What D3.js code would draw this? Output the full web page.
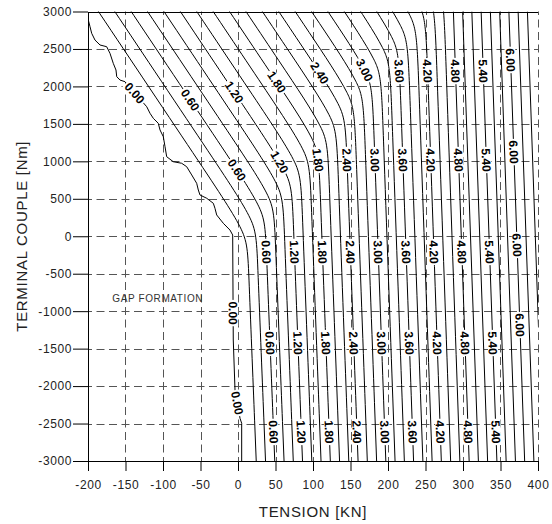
<!DOCTYPE html>
<html>
<head>
<meta charset="utf-8">
<script src="https://cdn.jsdelivr.net/npm/d3@7/dist/d3.min.js"></script>
<style>
body { margin: 0; background: #fff; }
text { font-family: "Liberation Sans", Arial, sans-serif; }
</style>
</head>
<body>
<svg id="chart" width="552" height="524"></svg>
<script>
//data
var xMajor = [-200, -150, -100, -50, 0, 50, 100, 150, 200, 250, 300, 350, 400];
var yMajor = [-3000, -2500, -2000, -1500, -1000, -500, 0, 500, 1000, 1500, 2000, 2500, 3000];
var xGrid = [-150, -100, -50, 0, 50, 100, 150, 200, 250, 300, 350, 400];
var yGrid = [-2500, -2000, -1500, -1000, -500, 0, 500, 1000, 1500, 2000, 2500];

// the 0.00 line (gap formation boundary), [tension, couple]
var gapLine = [[-199.6, 2886], [-197.3, 2797], [-195.1, 2709], [-190.7, 2619], [-184, 2553],
    [-175.1, 2530], [-170.7, 2442], [-166.3, 2308], [-162.7, 2219], [-161.7, 2130], [-157.3, 2085],
    [-150.7, 2063], [-137, 1905], [-121.7, 1729], [-117.3, 1641], [-112.9, 1574], [-106.3, 1508],
    [-104, 1419], [-99.6, 1329], [-97.3, 1195], [-95.1, 1062], [-86.3, 995], [-75.1, 974],
    [-68.4, 928], [-61.7, 818], [-55.1, 707], [-52.9, 617], [-50.7, 551], [-41.7, 507],
    [-32.9, 440], [-30.7, 373], [-28.4, 284], [-19.6, 173], [-10.7, 83], [-7.1, 17],
    [-6.3, -1385], [-4, -2052], [2.7, -2430], [4.9, -2497], [4.9, -3000]];

// other contour levels and their traced control points [tension, couple]
var levels = [0.2, 0.4, 0.6, 0.8, 1.0, 1.2, 1.4, 1.6, 1.8, 2.0, 2.2, 2.4, 2.6, 2.8, 3.0, 3.2,
    3.4, 3.6, 3.8, 4.0, 4.2, 4.4, 4.6, 4.8, 5.0, 5.2, 5.4, 5.6, 5.8, 6.0, 6.2, 6.4];
var levelPoints = [
    [[-226.2, 3600], [-47.8, 930], [12.3, 30], [13.4, -270], [24.3, -3000]],
    [[-204.4, 3600], [-36.0, 1079], [24.1, 179], [25.2, -121], [36.7, -3000]],
    [[-182.5, 3600], [-24.1, 1229], [36.0, 329], [36.9, 29], [49.0, -3000]],
    [[-160.7, 3600], [-12.2, 1378], [47.9, 478], [48.8, 178], [61.4, -3000]],
    [[-138.8, 3600], [-0.3, 1527], [59.8, 627], [60.7, 327], [73.7, -3000]],
    [[-116.9, 3600], [11.6, 1676], [71.7, 776], [72.6, 476], [86.0, -3000]],
    [[-95.1, 3600], [23.5, 1825], [83.6, 925], [84.5, 625], [98.4, -3000]],
    [[-73.2, 3600], [35.4, 1975], [95.5, 1075], [96.4, 775], [110.7, -3000]],
    [[-51.4, 3600], [47.3, 2124], [107.4, 1224], [108.3, 924], [123.1, -3000]],
    [[-29.5, 3600], [59.2, 2273], [119.3, 1373], [120.2, 1073], [135.4, -3000]],
    [[-7.6, 3600], [71.1, 2422], [131.2, 1522], [132.1, 1222], [147.7, -3000]],
    [[14.2, 3600], [83.0, 2572], [143.1, 1672], [144.0, 1372], [160.1, -3000]],
    [[36.1, 3600], [94.9, 2721], [155.0, 1821], [155.9, 1521], [172.4, -3000]],
    [[57.9, 3600], [106.8, 2870], [166.9, 1970], [167.8, 1670], [184.8, -3000]],
    [[79.8, 3600], [118.6, 3019], [178.7, 2119], [179.6, 1819], [197.1, -3000]],
    [[101.7, 3600], [130.5, 3168], [190.6, 2268], [191.5, 1968], [209.4, -3000]],
    [[123.5, 3600], [142.4, 3318], [202.5, 2418], [203.4, 2118], [221.8, -3000]],
    [[145.4, 3600], [154.3, 3467], [214.4, 2567], [215.3, 2267], [234.1, -3000]],
    [[166.2, 3616], [226.3, 2716], [227.2, 2416], [246.5, -3000]],
    [[178.1, 3765], [238.2, 2865], [239.1, 2565], [258.8, -3000]],
    [[190.0, 3915], [250.1, 3015], [251.0, 2715], [271.1, -3000]],
    [[201.9, 4064], [262.0, 3164], [262.9, 2864], [283.5, -3000]],
    [[213.8, 4213], [273.9, 3313], [274.8, 3013], [295.8, -3000]],
    [[287.2, 3000], [308.2, -3000]],
    [[299.5, 3000], [320.5, -3000]],
    [[311.8, 3000], [332.8, -3000]],
    [[324.2, 3000], [345.2, -3000]],
    [[336.5, 3000], [357.5, -3000]],
    [[348.9, 3000], [369.9, -3000]],
    [[361.2, 3000], [382.2, -3000]],
    [[373.5, 3000], [394.5, -3000]],
    [[385.9, 3000], [406.9, -3000]]
];

// where the level labels sit: [level, couple]
var labelSpots = [
    [0, 1912], [0, -1025], [0, -2227],
    [0.6, 1819], [0.6, 884], [0.6, -210], [0.6, -1425], [0.6, -2612],
    [1.2, 1924], [1.2, 991], [1.2, -210], [1.2, -1425], [1.2, -2612],
    [1.8, 2059], [1.8, 1018], [1.8, -210], [1.8, -1425], [1.8, -2612],
    [2.4, 2179], [2.4, 1018], [2.4, -210], [2.4, -1425], [2.4, -2612],
    [3.0, 2219], [3.0, 1018], [3.0, -210], [3.0, -1425], [3.0, -2612],
    [3.6, 2205], [3.6, 1018], [3.6, -210], [3.6, -1425], [3.6, -2612],
    [4.2, 2205], [4.2, 1018], [4.2, -210], [4.2, -1425], [4.2, -2612],
    [4.8, 2205], [4.8, 1018], [4.8, -210], [4.8, -1425], [4.8, -2612],
    [5.4, 2205], [5.4, 1018], [5.4, -210], [5.4, -1425], [5.4, -2612],
    [6.0, 2353], [6.0, 1124], [6.0, -117], [6.0, -1185]
];
//end data

var svg = d3.select('#chart');
var x = d3.scaleLinear().domain([-200, 400]).range([88, 538]);
var y = d3.scaleLinear().domain([-3000, 3000]).range([461, 11.5]);

svg.append('defs').append('clipPath').attr('id', 'plotClip')
    .append('rect')
    .attr('x', x(-200)).attr('y', y(3000))
    .attr('width', x(400) - x(-200)).attr('height', y(-3000) - y(3000));

//dashed grid
var gGrid = svg.append('g').attr('class', 'grid');
gGrid.selectAll('line.gx')
    .data(xGrid)
    .enter().append('line')
    .attr('class', 'gx')
    .attr('x1', function (d) { return Math.round(x(d)) + 0.5; })
    .attr('x2', function (d) { return Math.round(x(d)) + 0.5; })
    .attr('y1', y(-3000))
    .attr('y2', y(3000))
    .attr('stroke', '#555')
    .attr('stroke-dasharray', '8,4.5')
    .attr('stroke-dashoffset', 4);
gGrid.selectAll('line.gy')
    .data(yGrid)
    .enter().append('line')
    .attr('class', 'gy')
    .attr('x1', x(-200))
    .attr('x2', x(400))
    .attr('y1', function (d) { return Math.round(y(d)) + 0.5; })
    .attr('y2', function (d) { return Math.round(y(d)) + 0.5; })
    .attr('stroke', '#555')
    .attr('stroke-dasharray', '8,4.5')
    .attr('stroke-dashoffset', 4);

//contour lines
var gLines = svg.append('g').attr('clip-path', 'url(#plotClip)');
var lineFunc = d3.line()
    .x(function (d) { return x(d[0]); })
    .y(function (d) { return y(d[1]); });
var paths = {};
paths['0'] = gLines.append('path')
    .datum(gapLine)
    .attr('d', lineFunc.curve(d3.curveLinear))
    .attr('fill', 'none')
    .attr('stroke', '#000')
    .attr('stroke-width', 1);
levels.forEach(function (lv, i) {
    paths[lv.toFixed(1)] = gLines.append('path')
        .datum(levelPoints[i])
        .attr('d', lineFunc.curve(d3.curveBasis))
        .attr('fill', 'none')
        .attr('stroke', '#000')
        .attr('stroke-width', 1);
});

//labels on lines, found on the drawn path
function pointAtY(node, ty) {
    var lo = 0, hi = node.getTotalLength();
    for (var k = 0; k < 40; k++) {
        var mid = (lo + hi) / 2;
        if (node.getPointAtLength(mid).y < ty) { lo = mid; } else { hi = mid; }
    }
    var p = node.getPointAtLength(lo);
    var a = node.getPointAtLength(Math.max(0, lo - 3));
    var b = node.getPointAtLength(lo + 3);
    return { x: p.x, y: p.y, angle: Math.atan2(b.y - a.y, b.x - a.x) * 180 / Math.PI };
}
var gLabels = svg.append('g').attr('class', 'labels');
labelSpots.forEach(function (s) {
    var key = s[0] === 0 ? '0' : s[0].toFixed(1);
    var p = pointAtY(paths[key].node(), y(s[1]));
    var g = gLabels.append('g')
        .attr('transform', 'translate(' + p.x + ',' + p.y + ') rotate(' + p.angle + ')');
    var rect = g.append('rect').attr('fill', '#fff');
    var t = g.append('text')
        .attr('text-anchor', 'middle')
        .attr('dy', '0.36em')
        .attr('font-size', 12)
        .attr('font-weight', 'bold')
        .attr('fill', '#000')
        .text(s[0].toFixed(2));
    var w = t.node().getComputedTextLength();
    rect.attr('x', -w / 2 - 1.5).attr('y', -5).attr('width', w + 3).attr('height', 10);
});

//axes
var gx = svg.append('g').attr('transform', 'translate(0,' + y(-3000) + ')');
gx.call(d3.axisBottom(x).tickValues(d3.range(-200, 401, 10)).tickSize(7).tickFormat(''))
    .select('.domain').remove();
gx.call(d3.axisBottom(x).tickValues(xMajor).tickSize(10).tickSizeOuter(0).tickPadding(9)
    .tickFormat(function (d) { return String(d); }));
var gy = svg.append('g').attr('transform', 'translate(' + x(-200) + ',0)');
gy.call(d3.axisLeft(y).tickValues(d3.range(-3000, 3001, 100)).tickSize(7).tickFormat(''))
    .select('.domain').remove();
gy.call(d3.axisLeft(y).tickValues(yMajor).tickSize(15).tickSizeOuter(0).tickPadding(1)
    .tickFormat(function (d) { return String(d); }));
svg.selectAll('.tick text')
    .attr('font-family', '"Liberation Sans", Arial, sans-serif')
    .attr('font-size', 12)
    .attr('letter-spacing', '0.6px')
    .attr('fill', '#222');
svg.selectAll('.domain, .tick line').attr('stroke', '#000');

//top border
svg.append('line')
    .attr('x1', x(-200)).attr('x2', x(400))
    .attr('y1', Math.round(y(3000)) + 0.5).attr('y2', Math.round(y(3000)) + 0.5)
    .attr('stroke', '#000');

//titles
svg.append('text')
    .attr('x', (x(-200) + x(400)) / 2)
    .attr('y', 517)
    .attr('text-anchor', 'middle')
    .attr('font-size', 15)
    .attr('letter-spacing', '0.7px')
    .attr('fill', '#222')
    .text('TENSION [KN]');
svg.append('text')
    .attr('transform', 'translate(27,' + y(0) + ') rotate(-90)')
    .attr('text-anchor', 'middle')
    .attr('font-size', 15)
    .attr('letter-spacing', '0.7px')
    .attr('fill', '#222')
    .text('TERMINAL COUPLE [Nm]');
svg.append('text')
    .attr('x', x(-107))
    .attr('y', y(-874))
    .attr('text-anchor', 'middle')
    .attr('font-size', 10)
    .attr('letter-spacing', '0.6px')
    .attr('fill', '#333')
    .text('GAP FORMATION');
</script>
</body>
</html>
